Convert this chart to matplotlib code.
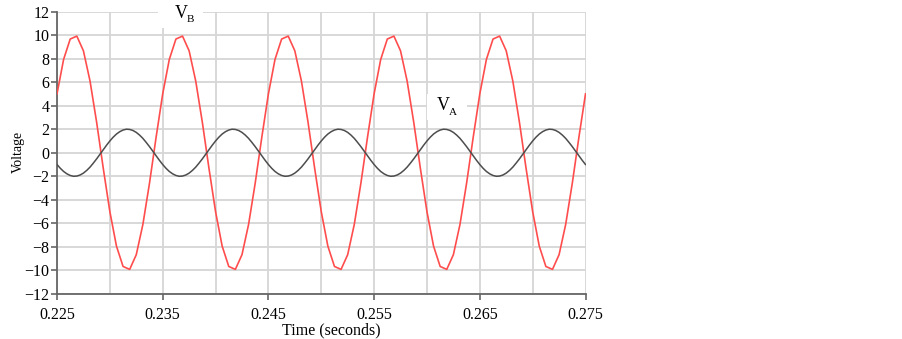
import numpy as np
import matplotlib
matplotlib.use("Agg")
import matplotlib.pyplot as plt
from matplotlib.ticker import MultipleLocator
from matplotlib.patches import Rectangle

# Data
vb_values = [
    5.00, 7.93, 9.66, 9.91, 8.66, 6.09, 2.59, -1.31, -5.00, -7.93, -9.66, -9.91, -8.66, -6.09, -2.59, 1.31,
    5.00, 7.93, 9.66, 9.91, 8.66, 6.09, 2.59, -1.31, -5.00, -7.93, -9.66, -9.91, -8.66, -6.09, -2.59, 1.31,
    5.00, 7.93, 9.66, 9.91, 8.66, 6.09, 2.59, -1.31, -5.00, -7.93, -9.66, -9.91, -8.66, -6.09, -2.59, 1.31,
    5.00, 7.93, 9.66, 9.91, 8.66, 6.09, 2.59, -1.31, -5.00, -7.93, -9.66, -9.91, -8.66, -6.09, -2.59, 1.31,
    5.00, 7.93, 9.66, 9.91, 8.66, 6.09, 2.59, -1.31, -5.00, -7.93, -9.66, -9.91, -8.66, -6.09, -2.59, 1.31,
    5.00,
]
va_values = [
    -1.00, -1.32, -1.59, -1.79, -1.93, -2.00, -1.98, -1.89, -1.73, -1.50, -1.22, -0.88, -0.52, -0.13, 0.26, 0.64,
    1.00, 1.32, 1.59, 1.79, 1.93, 2.00, 1.98, 1.89, 1.73, 1.50, 1.22, 0.88, 0.52, 0.13, -0.26, -0.64,
    -1.00, -1.32, -1.59, -1.79, -1.93, -2.00, -1.98, -1.89, -1.73, -1.50, -1.22, -0.88, -0.52, -0.13, 0.26, 0.64,
    1.00, 1.32, 1.59, 1.79, 1.93, 2.00, 1.98, 1.89, 1.73, 1.50, 1.22, 0.88, 0.52, 0.13, -0.26, -0.64,
    -1.00, -1.32, -1.59, -1.79, -1.93, -2.00, -1.98, -1.89, -1.73, -1.50, -1.22, -0.88, -0.52, -0.13, 0.26, 0.64,
    1.00, 1.32, 1.59, 1.79, 1.93, 2.00, 1.98, 1.89, 1.73, 1.50, 1.22, 0.88, 0.52, 0.13, -0.26, -0.64,
    -1.00, -1.32, -1.59, -1.79, -1.93, -2.00, -1.98, -1.89, -1.73, -1.50, -1.22, -0.88, -0.52, -0.13, 0.26, 0.64,
    1.00, 1.32, 1.59, 1.79, 1.93, 2.00, 1.98, 1.89, 1.73, 1.50, 1.22, 0.88, 0.52, 0.13, -0.26, -0.64,
    -1.00, -1.32, -1.59, -1.79, -1.93, -2.00, -1.98, -1.89, -1.73, -1.50, -1.22, -0.88, -0.52, -0.13, 0.26, 0.64,
    1.00, 1.32, 1.59, 1.79, 1.93, 2.00, 1.98, 1.89, 1.73, 1.50, 1.22, 0.88, 0.52, 0.13, -0.26, -0.64,
    -1.00,
]
t_start, t_end = 0.225, 0.275
x_tick_values = [0.225, 0.235, 0.245, 0.255, 0.265, 0.275]
x_tick_labels = ["0.225", "0.235", "0.245", "0.255", "0.265", "0.275"]
y_tick_values = list(range(-12, 13, 2))
y_tick_labels = [str(v).replace("-", "\u2212") for v in y_tick_values]

t_vb = np.linspace(t_start, t_end, len(vb_values))
t_va = np.linspace(t_start, t_end, len(va_values))

plt.rcParams["font.family"] = ["Liberation Serif", "DejaVu Serif"]

W, H = 902, 339
fig = plt.figure(figsize=(W / 100, H / 100), dpi=100)
ax_l, ax_r, ax_t, ax_b = 57, 585.5, 11.5, 294
ax = fig.add_axes([ax_l / W, 1 - ax_b / H, (ax_r - ax_l) / W, (ax_b - ax_t) / H])

ax.plot(t_vb, vb_values, color="#ff4d4d", lw=1.2, zorder=3)
ax.plot(t_va, va_values, color="#4d4d4d", lw=1.1, zorder=3)

ax.set_xlim(t_start, t_end)
ax.set_ylim(-12, 12)
ax.set_xticks(x_tick_values)
ax.set_xticklabels(x_tick_labels)
ax.xaxis.set_minor_locator(MultipleLocator(0.005))
ax.set_yticks(y_tick_values)
ax.set_yticklabels(y_tick_labels)

ax.grid(True, which="both", color="#d6d6d6", lw=1.3, zorder=0)
ax.tick_params(axis="x", which="minor", length=0)
ax.tick_params(axis="both", which="major", direction="out", length=4, width=1.2,
               color="#666666", labelsize=11.5, labelcolor="black")
ax.tick_params(axis="x", pad=5.5)
ax.tick_params(axis="y", pad=1.5)
for s in ["top", "right"]:
    ax.spines[s].set_visible(False)
for s in ["left", "bottom"]:
    ax.spines[s].set_color("#666666")
    ax.spines[s].set_linewidth(1.3)
ax.set_axisbelow(True)

ax.set_xlabel("Time (seconds)", fontsize=11.5)
ax.xaxis.set_label_coords((331 - ax_l) / (ax_r - ax_l), -(330 - ax_b) / (ax_b - ax_t))
ax.xaxis.label.set_verticalalignment("center")
ax.set_ylabel("Voltage", fontsize=10)
ax.yaxis.set_label_coords(-(ax_l - 18) / (ax_r - ax_l), 1 - (151.5 - ax_t) / (ax_b - ax_t))
ax.yaxis.label.set_verticalalignment("center")


def px(x, y):
    """pixel (from top-left) -> axes fraction"""
    return (x - ax_l) / (ax_r - ax_l), 1 - (y - ax_t) / (ax_b - ax_t)


def label(text, sub, x0, y0, box):
    bx0, by0 = px(box[0], box[3])
    bx1, by1 = px(box[2], box[1])
    ax.add_patch(Rectangle((bx0, by0), bx1 - bx0, by1 - by0, transform=ax.transAxes,
                           facecolor="white", edgecolor="none", zorder=2, clip_on=False))
    tx, ty = px(x0, y0)
    ax.text(tx, ty, text, transform=ax.transAxes, fontsize=13, ha="left", va="baseline", zorder=4)
    sx, sy = px(x0 + 12, y0 + 4)
    ax.text(sx, sy, sub, transform=ax.transAxes, fontsize=8, ha="left", va="baseline", zorder=4)


label("V", "B", 175, 18.5, (158, -1, 203, 28))
label("V", "A", 437, 110.5, (427, 94, 467, 120))

fig.savefig("out.png", dpi=100)
